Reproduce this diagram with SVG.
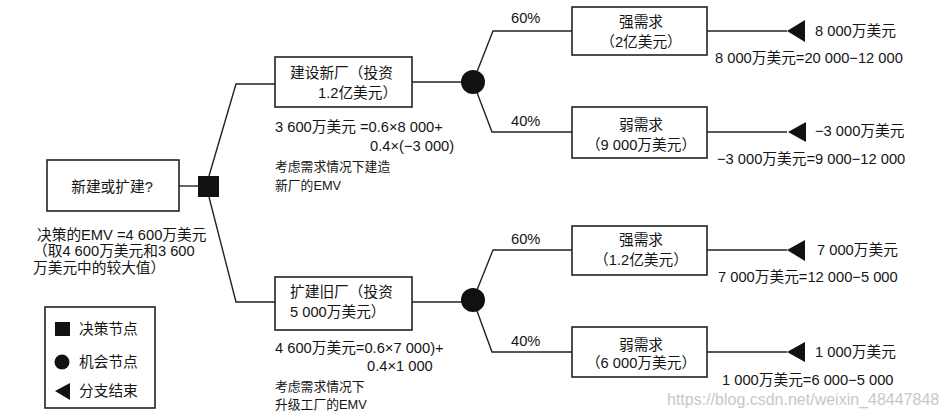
<svg xmlns="http://www.w3.org/2000/svg" width="947" height="418" viewBox="0 0 947 418">
<style>
text{font-family:"Liberation Sans","Noto Sans CJK SC",sans-serif;font-size:14.7px;fill:#151515}
.s{font-size:12.8px}
.c{text-anchor:middle}
.box{fill:#fff;stroke:#222;stroke-width:1.6}
.ln{fill:none;stroke:#222;stroke-width:1.4}
.wm{fill:#c8c8c8;font-size:16px}
</style>
<rect width="947" height="418" fill="#fff"/>
<g id="connectors">
<path class="ln" d="M179 186H198"/>
<path class="ln" d="M209 176L236 84H275"/>
<path class="ln" d="M209 197L236 302H275"/>
<path class="ln" d="M412 82H473"/>
<path class="ln" d="M412 302H473"/>
<path class="ln" d="M473 82L493 31H572"/>
<path class="ln" d="M473 82L492 132H572"/>
<path class="ln" d="M473 300L493 250H572"/>
<path class="ln" d="M473 300L492 352H572"/>
<path class="ln" d="M707 31H787"/>
<path class="ln" d="M707 132H787"/>
<path class="ln" d="M707 250H787"/>
<path class="ln" d="M707 352H787"/>
</g>
<g id="root">
<rect class="box" x="47" y="160" width="132" height="51"/>
<text class="c" x="112" y="192">新建或扩建?</text>
<text x="37" y="240">决策的EMV =4 600万美元</text>
<text x="33" y="256">（取4 600万美元和3 600</text>
<text x="33" y="273">万美元中的较大值）</text>
</g>
<g id="decision">
<rect x="198" y="176" width="21" height="21" fill="#111"/>
</g>
<g id="newplant">
<rect class="box" x="275" y="57" width="137" height="50"/>
<text x="290" y="78">建设新厂（投资</text>
<text x="318" y="98">1.2亿美元）</text>
<text x="275" y="132">3 600万美元 =0.6×8 000+</text>
<text x="370" y="151">0.4×(−3 000)</text>
<text class="s" x="275" y="171">考虑需求情况下建造</text>
<text class="s" x="275" y="190">新厂的EMV</text>
</g>
<g id="expand">
<rect class="box" x="275" y="277" width="137" height="53"/>
<text x="290" y="297">扩建旧厂（投资</text>
<text x="290" y="317">5 000万美元）</text>
<text x="275" y="353">4 600万美元=0.6×7 000)+</text>
<text x="367" y="371">0.4×1 000</text>
<text class="s" x="275" y="391">考虑需求情况下</text>
<text class="s" x="275" y="409">升级工厂的EMV</text>
</g>
<g id="chance1"><circle cx="473" cy="82" r="12" fill="#111"/></g>
<g id="chance2"><circle cx="473" cy="300" r="12" fill="#111"/></g>
<g id="labels">
<text x="511" y="23">60%</text>
<text x="511" y="126">40%</text>
<text x="511" y="244">60%</text>
<text x="511" y="346">40%</text>
</g>
<g id="strong1">
<rect class="box" x="572" y="7" width="135" height="48"/>
<text class="c" x="641" y="27">强需求</text>
<text class="c" x="641" y="47">（2亿美元）</text>
</g>
<g id="weak1">
<rect class="box" x="572" y="107" width="135" height="51"/>
<text class="c" x="641" y="130">弱需求</text>
<text class="c" x="641" y="150">（9 000万美元）</text>
</g>
<g id="strong2">
<rect class="box" x="572" y="226" width="135" height="49"/>
<text class="c" x="641" y="245">强需求</text>
<text class="c" x="641" y="265">（1.2亿美元）</text>
</g>
<g id="weak2">
<rect class="box" x="572" y="327" width="135" height="50"/>
<text class="c" x="641" y="350">弱需求</text>
<text class="c" x="641" y="368">（6 000万美元）</text>
</g>
<g id="end1">
<polygon points="787,31 805,20 805,42" fill="#111"/>
<text x="815" y="36">8 000万美元</text>
<text x="715" y="63">8 000万美元=20 000−12 000</text>
</g>
<g id="end2">
<polygon points="788,132 806,122 806,142" fill="#111"/>
<text x="815" y="136">−3 000万美元</text>
<text x="717" y="164">−3 000万美元=9 000−12 000</text>
</g>
<g id="end3">
<polygon points="787,250 805,240 805,261" fill="#111"/>
<text x="817" y="255">7 000万美元</text>
<text x="718" y="282">7 000万美元=12 000−5 000</text>
</g>
<g id="end4">
<polygon points="787,352 805,342 805,362" fill="#111"/>
<text x="815" y="357">1 000万美元</text>
<text x="722" y="385">1 000万美元=6 000−5 000</text>
</g>
<g id="legend">
<rect class="box" x="45" y="307" width="110" height="101"/>
<rect x="55" y="322" width="15" height="14" fill="#111"/>
<text x="79" y="334">决策节点</text>
<circle cx="62" cy="362" r="7.5" fill="#111"/>
<text x="79" y="367">机会节点</text>
<polygon points="55,391 70,383 70,400" fill="#111"/>
<text x="79" y="396">分支结束</text>
</g>
<text class="wm" x="667" y="405">https://blog.csdn.net/weixin_48447848</text>
</svg>
